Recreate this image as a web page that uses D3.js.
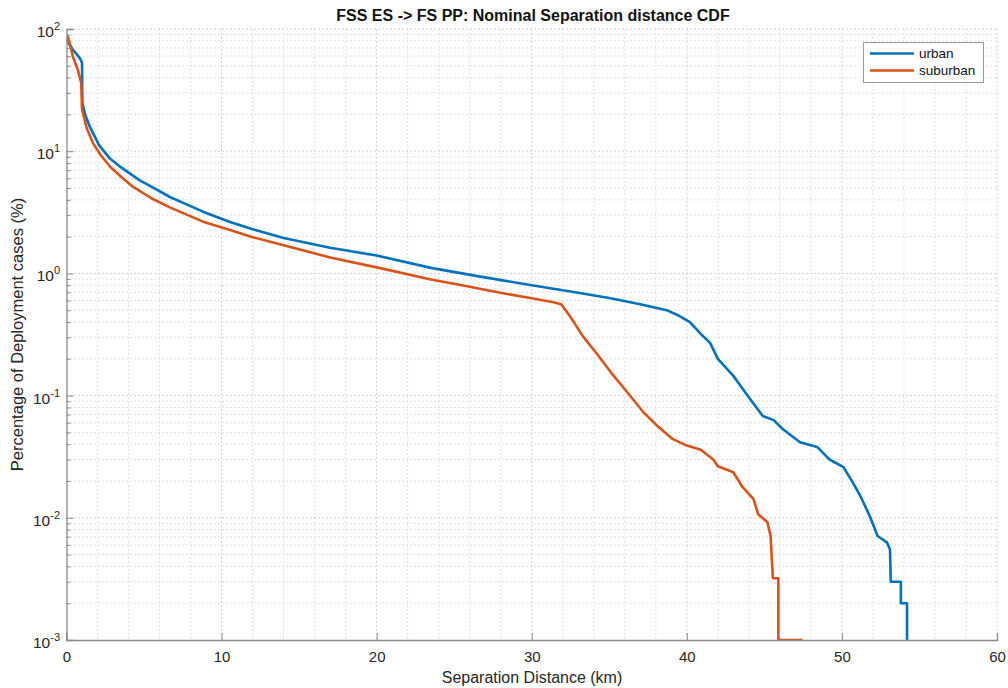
<!DOCTYPE html>
<html>
<head>
<meta charset="utf-8">
<script src="https://cdn.jsdelivr.net/npm/d3@7"></script>
<style>
  body { margin: 0; background: #fff; }
  svg { font-family: "Liberation Sans", Arial, Helvetica, sans-serif; }
</style>
</head>
<body>
<div id="chart"></div>
<script>
// urban curve (km, %)
const urbanKm = [0, 0.4, 0.85, 1.0, 1.02, 1.2, 1.5, 2.1, 2.8, 3.5, 4.7, 5.5, 6.7, 8.0, 8.8, 10.5, 12, 14, 17, 20, 23.5, 26.5, 30, 32.5, 35, 37, 38.7, 39.5, 40.2, 41.0, 41.5, 42.0, 43.0, 44.1, 44.9, 45.6, 46.2, 47.3, 48.4, 49.2, 50.1, 50.7, 51.2, 51.8, 52.3, 52.9, 53.1, 53.15, 53.8, 53.8, 54.2, 54.2]
const urbanPct = [82, 68, 58, 53, 25, 20, 15.9, 11.2, 8.7, 7.4, 5.8, 5.1, 4.2, 3.55, 3.2, 2.65, 2.3, 1.95, 1.62, 1.4, 1.11, 0.95, 0.8, 0.71, 0.63, 0.56, 0.5, 0.45, 0.4, 0.31, 0.27, 0.2, 0.145, 0.093, 0.068, 0.063, 0.053, 0.0415, 0.038, 0.03, 0.026, 0.0195, 0.015, 0.0103, 0.0071, 0.0063, 0.0055, 0.003, 0.003, 0.002, 0.002, 0.001]

// suburban curve (km, %)
const suburbanKm = [0, 0.1, 0.42, 0.74, 0.95, 1.0, 1.3, 1.7, 2.2, 2.8, 3.5, 4.3, 5.5, 6.7, 8.8, 10.5, 12, 14, 17, 20, 23.5, 25.5, 27.8, 30, 31.4, 31.9, 32.5, 33.3, 34.2, 35.1, 36.2, 37.2, 38.2, 39.1, 40.0, 40.9, 41.7, 42.0, 43.0, 43.6, 44.3, 44.6, 45.2, 45.4, 45.55, 45.9, 45.9, 47.45]
const suburbanPct = [88, 86, 59, 46, 36, 22, 15.5, 11.7, 9.3, 7.5, 6.2, 5.1, 4.1, 3.45, 2.65, 2.28, 1.98, 1.7, 1.35, 1.12, 0.89, 0.8, 0.7, 0.625, 0.58, 0.56, 0.44, 0.305, 0.22, 0.155, 0.105, 0.073, 0.055, 0.044, 0.039, 0.036, 0.03, 0.0264, 0.0236, 0.0178, 0.0142, 0.0107, 0.0092, 0.0071, 0.0032, 0.0032, 0.001, 0.001]

const xTicks = [0, 10, 20, 30, 40, 50, 60]
const xMinorGrid = d3.range(2, 60, 2).filter(d => d % 10 !== 0)
const yDecades = [-3, -2, -1, 0, 1, 2]

const seriesNames = ['urban', 'suburban']
const seriesColors = ['#0072BD', '#D95319']

const W = 1008, H = 688
const plot = { left: 66.5, right: 997, top: 29, bottom: 640 }

const svg = d3.select('#chart').append('svg')
  .attr('width', W).attr('height', H)

const x = d3.scaleLinear().domain([0, 60]).range([plot.left, plot.right])
const y = d3.scaleLog().domain([1e-3, 1e2]).range([plot.bottom, plot.top])

const yMajor = yDecades.map(e => Math.pow(10, e))
const yMinor = []
yDecades.slice(0, -1).forEach(e => {
  for (let k = 2; k <= 9; k++) yMinor.push(k * Math.pow(10, e))
})

// grid
const grid = svg.append('g')
grid.selectAll('.xminor').data(xMinorGrid).join('line')
  .attr('x1', d => x(d)).attr('x2', d => x(d))
  .attr('y1', plot.top).attr('y2', plot.bottom)
  .attr('stroke', '#d6d6d6').attr('stroke-dasharray', '1.5,2.5')
grid.selectAll('.yminor').data(yMinor).join('line')
  .attr('x1', plot.left).attr('x2', plot.right)
  .attr('y1', d => y(d)).attr('y2', d => y(d))
  .attr('stroke', '#d6d6d6').attr('stroke-dasharray', '1.5,2.5')
grid.selectAll('.xmajor').data(xTicks.slice(1)).join('line')
  .attr('x1', d => x(d)).attr('x2', d => x(d))
  .attr('y1', plot.top).attr('y2', plot.bottom)
  .attr('stroke', '#c4c4c4').attr('stroke-dasharray', '1.5,2.5')
grid.selectAll('.ymajor').data(yMajor.slice(1)).join('line')
  .attr('x1', plot.left).attr('x2', plot.right)
  .attr('y1', d => y(d)).attr('y2', d => y(d))
  .attr('stroke', '#c4c4c4').attr('stroke-dasharray', '1.5,2.5')

// lines
svg.append('defs').append('clipPath').attr('id', 'plotClip')
  .append('rect').attr('x', plot.left).attr('y', plot.top - 2)
  .attr('width', plot.right - plot.left).attr('height', plot.bottom - plot.top + 2)

const line = d3.line().x(d => x(d[0])).y(d => y(d[1]))
const series = [
  d3.zip(urbanKm, urbanPct),
  d3.zip(suburbanKm, suburbanPct)
]
const lineG = svg.append('g').attr('clip-path', 'url(#plotClip)')
series.forEach((s, i) => {
  lineG.append('path')
    .datum(s)
    .attr('d', line)
    .attr('fill', 'none')
    .attr('stroke', seriesColors[i])
    .attr('stroke-width', 2.6)
    .attr('stroke-linejoin', 'round')
})

// axes
const axisColor = '#8a8a8a'
const xAxis = svg.append('g')
  .attr('transform', `translate(0,${plot.bottom})`)
  .call(d3.axisBottom(x).tickValues(xTicks).tickSize(-7).tickPadding(11).tickFormat(d3.format('d')))
xAxis.select('.domain').attr('stroke', axisColor).attr('stroke-width', 1.3)
xAxis.selectAll('.tick line').attr('stroke', axisColor)
xAxis.selectAll('.tick text').attr('font-size', 15).attr('fill', '#262626')
  .attr('font-family', '"Liberation Sans", Arial, sans-serif')

const yAxis = svg.append('g')
  .attr('transform', `translate(${plot.left},0)`)
  .call(d3.axisLeft(y).tickValues(yMajor).tickSize(-7).tickFormat(''))
yAxis.select('.domain').attr('stroke', axisColor).attr('stroke-width', 1.3)
yAxis.selectAll('.tick line').attr('stroke', axisColor)

const yAxisMinor = svg.append('g')
  .attr('transform', `translate(${plot.left},0)`)
  .call(d3.axisLeft(y).tickValues(yMinor).tickSize(-4).tickFormat(''))
yAxisMinor.select('.domain').remove()
yAxisMinor.selectAll('.tick line').attr('stroke', axisColor)

// y tick labels with superscript
const yLab = svg.append('g')
yDecades.forEach(e => {
  const t = yLab.append('text')
    .attr('x', 60).attr('y', y(Math.pow(10, e)) + 8)
    .attr('text-anchor', 'end')
    .attr('fill', '#262626')
    .attr('font-size', 15.5)
  t.append('tspan').text('10')
  t.append('tspan').attr('dy', -7).attr('font-size', 11).text(String(e))
})

// title and labels
svg.append('text')
  .attr('x', 533).attr('y', 21)
  .attr('text-anchor', 'middle')
  .attr('font-weight', 'bold').attr('font-size', 16)
  .attr('fill', '#111')
  .text('FSS ES -> FS PP: Nominal Separation distance CDF')

svg.append('text')
  .attr('x', 532).attr('y', 683)
  .attr('text-anchor', 'middle')
  .attr('font-size', 16)
  .attr('fill', '#262626')
  .text('Separation Distance (km)')

svg.append('text')
  .attr('transform', `translate(23,${(plot.top + plot.bottom) / 2}) rotate(-90)`)
  .attr('text-anchor', 'middle')
  .attr('font-size', 16.5)
  .attr('fill', '#262626')
  .text('Percentage of Deployment cases (%)')

// legend
const legend = svg.append('g')
legend.append('rect')
  .attr('x', 863.5).attr('y', 42.5).attr('width', 120).attr('height', 40)
  .attr('fill', '#fff').attr('stroke', '#9a9a9a').attr('stroke-width', 1)
seriesNames.forEach((name, i) => {
  const ly = 53.5 + i * 17
  legend.append('line')
    .attr('x1', 870).attr('x2', 914).attr('y1', ly).attr('y2', ly)
    .attr('stroke', seriesColors[i]).attr('stroke-width', 2.6)
  legend.append('text')
    .attr('x', 919).attr('y', ly + 4.5)
    .attr('font-size', 13.5)
    .attr('fill', '#111')
    .text(name)
})
</script>
</body>
</html>
